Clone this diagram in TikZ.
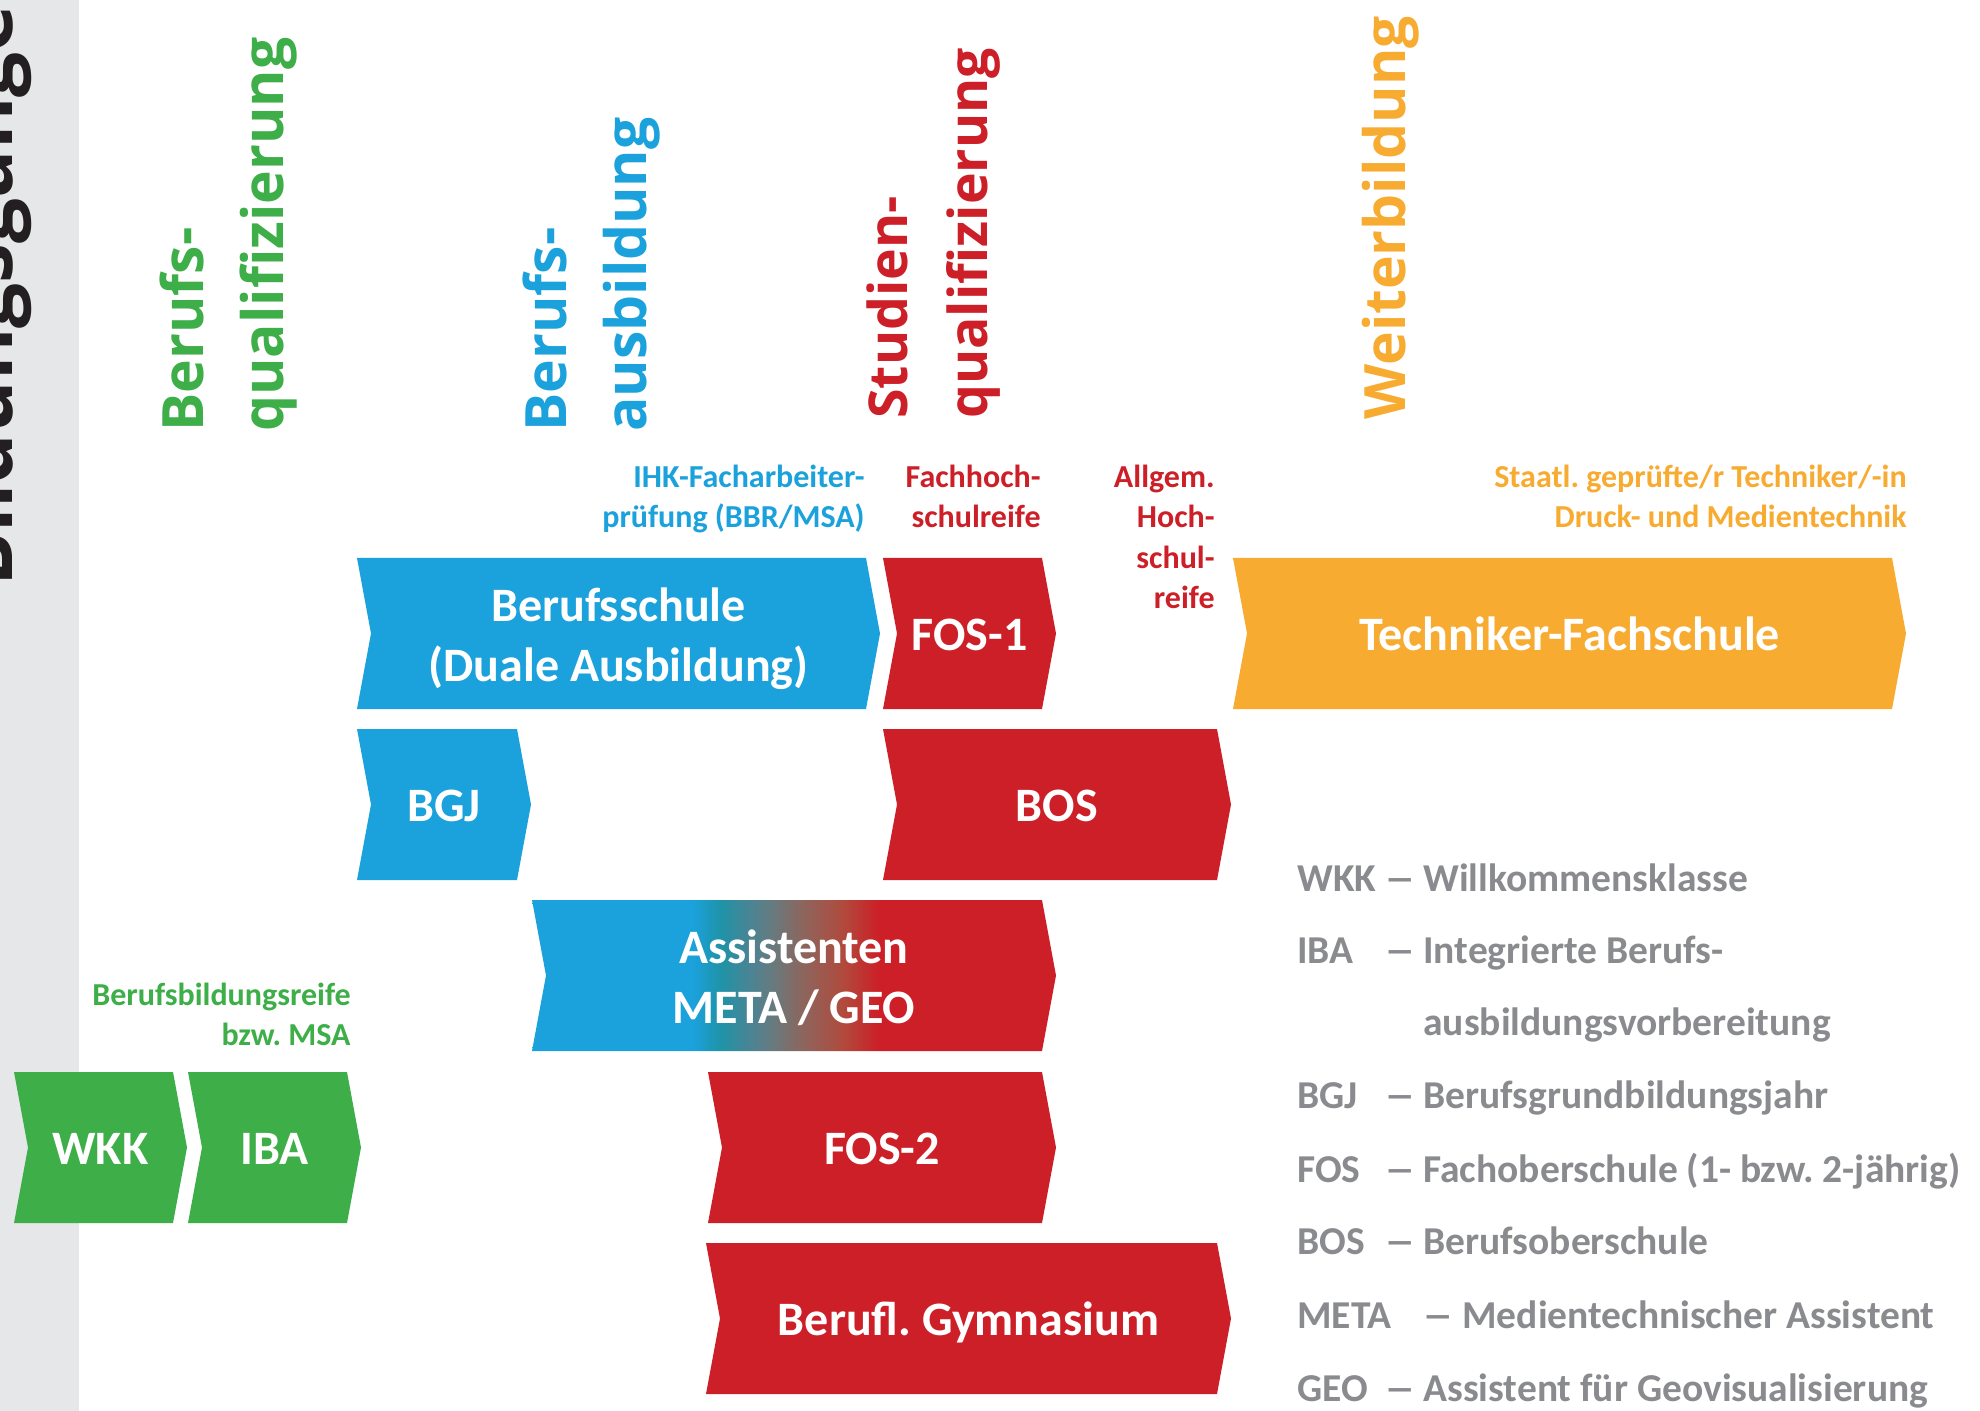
\documentclass[tikz,border=0pt]{standalone}
\usepackage{fontspec}
\setmainfont{Carlito}
\newfontfamily\headfont{Open Sans}
\frenchspacing
\definecolor{cblue}{HTML}{1BA1DB}
\definecolor{cred}{HTML}{CC1F27}
\definecolor{corange}{HTML}{F8AB31}
\definecolor{cgreen}{HTML}{3EAE49}
\definecolor{cgray}{HTML}{8A8B8E}
\definecolor{stripgray}{HTML}{E6E7E8}
\definecolor{ink}{HTML}{231F20}
\definecolor{gteal}{HTML}{1F93A8}
\definecolor{gslate}{HTML}{4A8494}
\definecolor{ggray}{HTML}{667B80}
\definecolor{gbrown}{HTML}{8A675F}
\definecolor{grust}{HTML}{B14A3D}
\pgfdeclarehorizontalshading{asstshade}{100bp}{color(0bp)=(cblue); color(40.4bp)=(cblue); color(43bp)=(gteal); color(45.8bp)=(gslate); color(47.8bp)=(ggray); color(50.6bp)=(gbrown); color(54.7bp)=(grust); color(58.1bp)=(cred); color(100bp)=(cred)}
% #1 name, #2 left x, #3 top y, #4 right x (without tip), #5 paint, #6 text, #7 last baseline offset from middle
\newcommand\chevron[7]{%
  \pgfmathsetmacro\cvB{#3+151}\pgfmathsetmacro\cvM{#3+75.5}%
  \pgfmathsetmacro\cvT{#4+14}\pgfmathsetmacro\cvN{#2+14}%
  \pgfmathsetmacro\cvX{(#2+#4+14)/2}\pgfmathsetmacro\cvY{#3+75.5+#7}%
  \path[#5] (#2,#3) -- (#4,#3) -- (\cvT,\cvM) -- (#4,\cvB) -- (#2,\cvB) -- (\cvN,\cvM) -- cycle;
  \node[chevtext] (#1) at (\cvX,\cvY) {#6};
}
\newcommand\legdash{\scalebox{1.6}[1]{–}}
\newcommand\legrow[6]{% #1 name, #2 baseline y, #3 abbr, #4 dash x, #5 desc x, #6 desc
  \node[legtxt] (#1a) at (1297,#2) {#3};
  \node[legtxt] (#1d) at (#4,#2) {\legdash};
  \node[legtxt] (#1t) at (#5,#2) {#6};
}
\begin{document}
\begin{tikzpicture}[x=0.5pt,y=-0.5pt,
  chevtext/.style={text=white, font=\fontsize{24}{30}\selectfont\bfseries, align=center, inner sep=0pt, anchor=base},
  lbl/.style={font=\fontsize{16}{20}\selectfont\bfseries, align=right, inner sep=0pt, anchor=base east},
  hdr/.style={font=\headfont\bfseries\fontsize{28.5}{40}\selectfont, align=left, inner sep=0pt, anchor=base west, rotate=90},
  legtxt/.style={text=cgray, font=\fontsize{19.75}{24}\selectfont\bfseries, inner sep=0pt, anchor=base west}]
\clip (0,0) rectangle (1980,1411);
\fill[white] (0,0) rectangle (1980,1411);
\fill[stripgray] (0,0) rectangle (79,1411);
\node[hdr, text=ink, font=\headfont\bfseries\fontsize{40}{48}\selectfont] (hb) at (12,587) {Bildungsgänge};
% headers (anchor = baseline of the last line)
\node[hdr, text=cgreen] (hq) at (283,432) {Berufs-\\qualifizierung};
\node[hdr, text=cblue] (ha) at (646,432) {Berufs-\\ausbildung};
\node[hdr, text=cred, font=\headfont\bfseries\fontsize{26.8}{40}\selectfont] (hs) at (987,419) {Studien-\\qualifizierung};
\node[hdr, text=corange] (hw) at (1405,420) {Weiterbildung};
% labels (anchor = baseline of the last line)
\node[lbl, text=cblue] (ihk) at (865,528) {IHK-Facharbeiter-\\prüfung (BBR/MSA)};
\node[lbl, text=cred] (fhr) at (1041,528) {Fachhoch-\\schulreife};
\node[lbl, text=cred] (ahr) at (1215,608) {Allgem.\\Hoch-\\schul-\\reife};
\node[lbl, text=corange] (stt) at (1907,528) {Staatl. geprüfte/r Techniker/-in\\Druck- und Medientechnik};
\node[lbl, text=cgreen] (bbr) at (351,1045) {Berufsbildungsreife\\bzw. MSA};
% chevrons
\chevron{bs}{357}{558}{866}{fill=cblue}{Berufsschule\\(Duale Ausbildung)}{48}
\chevron{fosa}{883}{558}{1042}{fill=cred}{FOS-1}{17}
\chevron{tfs}{1233}{558}{1892}{fill=corange}{Techniker-Fachschule}{17}
\chevron{bgj}{357}{729}{517}{fill=cblue}{BGJ}{17}
\chevron{bos}{883}{729}{1217}{fill=cred}{BOS}{17}
\chevron{asst}{532}{900}{1042}{shade,shading=asstshade}{Assistenten\\META / GEO}{48}
\chevron{wkk}{14}{1072}{173}{fill=cgreen}{WKK}{17}
\chevron{iba}{188}{1072}{347}{fill=cgreen}{IBA}{17}
\chevron{fosb}{708}{1072}{1042}{fill=cred}{FOS-2}{17}
\chevron{gym}{706}{1243}{1217}{fill=cred}{Berufl. Gymnasium}{17}
% legend
\legrow{lwkk}{891}{WKK}{1384}{1423}{Willkommensklasse}
\legrow{liba}{963}{IBA}{1384}{1423}{Integrierte Berufs-}
\node[legtxt] (libb) at (1423,1035) {ausbildungsvorbereitung};
\legrow{lbgj}{1108}{BGJ}{1384}{1423}{Berufsgrundbildungsjahr}
\legrow{lfos}{1182}{FOS}{1384}{1423}{Fachoberschule (1- bzw. 2-jährig)}
\legrow{lbos}{1254}{BOS}{1384}{1423}{Berufsoberschule}
\legrow{lmeta}{1328}{META}{1422}{1462}{Medientechnischer Assistent}
\legrow{lgeo}{1401}{GEO}{1384}{1423}{Assistent für Geovisualisierung}
\end{tikzpicture}
\end{document}
